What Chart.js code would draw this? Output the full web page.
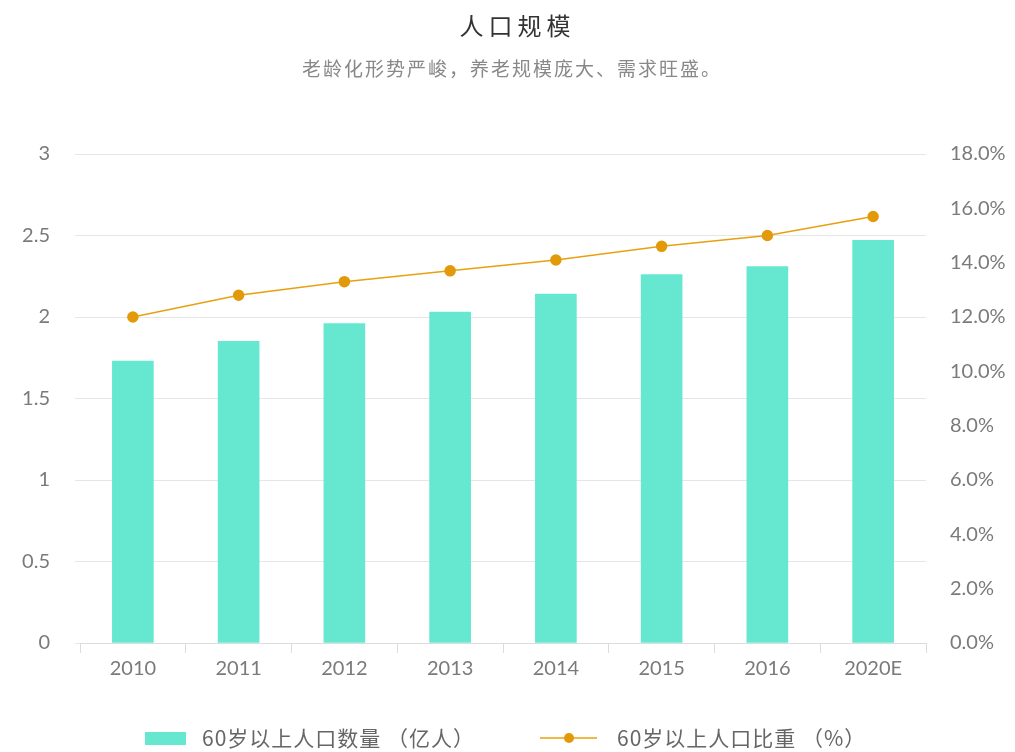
<!DOCTYPE html>
<html><head><meta charset="utf-8">
<script src="https://cdn.jsdelivr.net/npm/chart.js@4/dist/chart.umd.min.js"></script>
<style>html,body{margin:0;padding:0;background:#fff}#wrap{width:1015px;height:752px;position:relative}</style>
</head><body><div id="wrap"><canvas id="c" width="1015" height="752"></canvas></div>
<script>
const categories = ['2010','2011','2012','2013','2014','2015','2016','2020E'];
const population = [1.73, 1.85, 1.96, 2.03, 2.14, 2.26, 2.31, 2.47];
const share = [12.0, 12.8, 13.3, 13.7, 14.1, 14.6, 15.0, 15.7];
const leftTicks = {min: 0, max: 3, step: 0.5};
const rightTicks = {min: 0, max: 18, step: 2};
const titleText = '人口规模';
const subtitleText = '老龄化形势严峻，养老规模庞大、需求旺盛。';
const barLabel = '60岁以上人口数量 （亿人）';
const lineLabel = '60岁以上人口比重 （%）';

const FONT = 'Lato, "Noto Sans CJK SC", sans-serif';
const CJK = '"Noto Sans CJK SC", Lato, sans-serif';
const barColor = '#66E8D0';
const lineColor = '#E8A10E';

const deco = {
  id: 'deco',
  afterDraw(chart) {
    const ctx = chart.ctx;
    ctx.save();
    ctx.textBaseline = 'middle';
    ctx.textAlign = 'left';
    // title
    ctx.fillStyle = '#333';
    ctx.font = '24px ' + CJK;
    ctx.letterSpacing = '5px';
    let w = ctx.measureText(titleText).width - 5;
    ctx.fillText(titleText, 515 - w / 2, 26);
    // subtitle
    ctx.fillStyle = '#888';
    ctx.font = '19px ' + CJK;
    ctx.letterSpacing = '2px';
    w = ctx.measureText(subtitleText).width - 2;
    ctx.fillText(subtitleText, 511 - w / 2, 69);
    // legend
    const ly = 738;
    ctx.fillStyle = chart.data.datasets[0].backgroundColor;
    ctx.fillRect(145, ly - 6, 41, 13);
    ctx.fillStyle = '#666';
    ctx.font = '21px ' + CJK;
    ctx.letterSpacing = '1px';
    ctx.fillText(chart.data.datasets[0].label, 202, ly);
    ctx.strokeStyle = chart.data.datasets[1].borderColor;
    ctx.lineWidth = 1.5;
    ctx.beginPath(); ctx.moveTo(540, ly); ctx.lineTo(597, ly); ctx.stroke();
    ctx.fillStyle = chart.data.datasets[1].pointBackgroundColor;
    ctx.beginPath(); ctx.arc(569, ly, 5, 0, Math.PI * 2); ctx.fill();
    ctx.fillStyle = '#666';
    ctx.fillText(chart.data.datasets[1].label, 617, ly);
    ctx.restore();
  }
};

new Chart(document.getElementById('c'), {
  data: {
    labels: categories,
    datasets: [
      {type: 'bar', label: barLabel, data: population, yAxisID: 'y', backgroundColor: barColor, barThickness: 41, order: 2},
      {type: 'line', label: lineLabel, data: share, yAxisID: 'y1', borderColor: lineColor, backgroundColor: lineColor,
       pointBackgroundColor: '#E39A0A', pointBorderColor: '#E39A0A', pointRadius: 5, borderWidth: 1.5, tension: 0, order: 1}
    ]
  },
  options: {
    responsive: false,
    animation: false,
    layout: {padding: {left: 0, right: 0, top: 154, bottom: 67}},
    plugins: {legend: {display: false}, title: {display: false}, tooltip: {enabled: false}},
    scales: {
      x: {
        offset: true,
        grid: {offset: true, drawOnChartArea: false, drawTicks: true, tickLength: 10, color: '#dcdcdc'},
        border: {display: true, color: '#dcdcdc'},
        ticks: {color: '#7a7a7a', font: {family: FONT, size: 20}, padding: 4},
        afterFit(s) { s.height = 42; }
      },
      y: {
        position: 'left', min: leftTicks.min, max: leftTicks.max,
        ticks: {stepSize: leftTicks.step, color: '#7a7a7a', font: {family: FONT, size: 20}, padding: 25,
                callback: v => String(+v.toFixed(1))},
        grid: {color: '#e6e6e6', drawTicks: true, tickLength: 5},
        border: {display: false},
        afterFit(s) { s.width = 80; }
      },
      y1: {
        position: 'right', min: rightTicks.min, max: rightTicks.max,
        ticks: {stepSize: rightTicks.step, color: '#7a7a7a', font: {family: FONT, size: 20}, padding: 24,
                callback: v => v.toFixed(1) + '%'},
        grid: {display: false, drawTicks: false},
        border: {display: false},
        afterFit(s) { s.width = 89; }
      }
    }
  },
  plugins: [deco]
});
</script></body></html>
